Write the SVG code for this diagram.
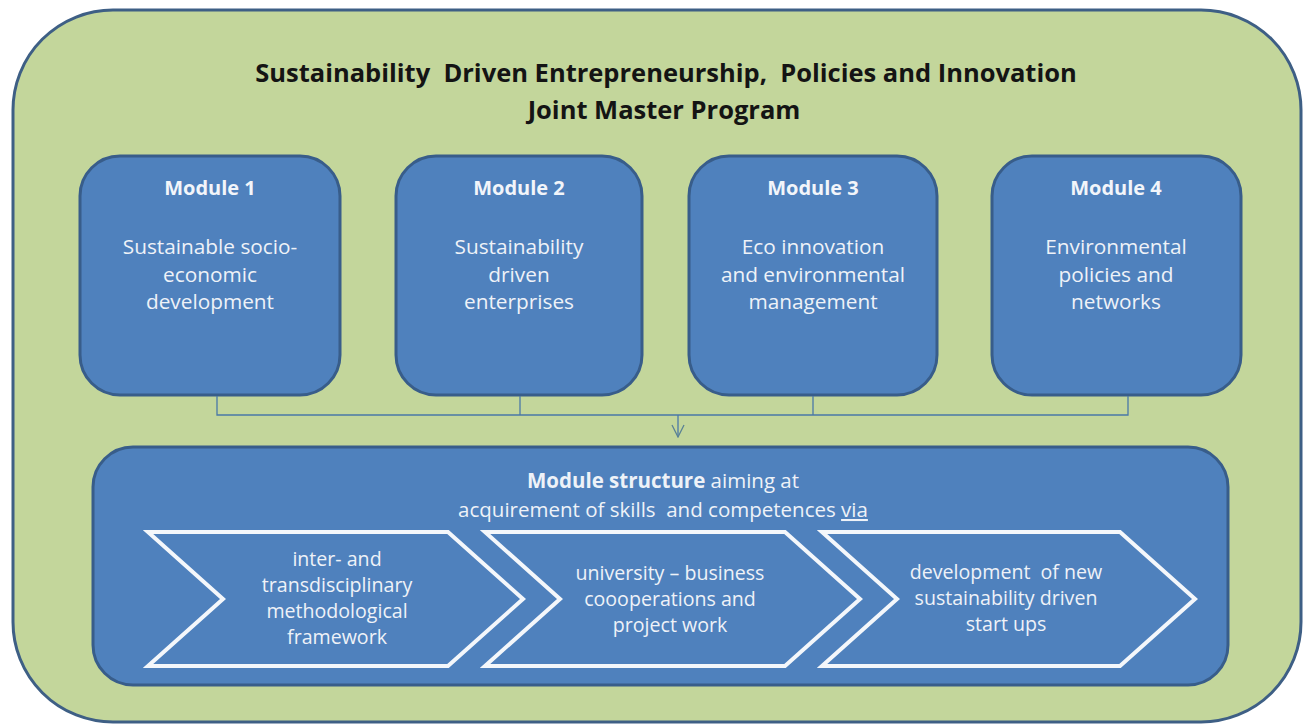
<svg xmlns="http://www.w3.org/2000/svg" width="1305" height="728" viewBox="0 0 1305 728" xml:space="preserve">
<defs>
<style>
.t{font-family:"Open Sans","Noto Sans","Liberation Sans",sans-serif;white-space:pre;}
.title{font-size:25.5px;font-weight:bold;fill:#141414;text-anchor:middle;}
.mh{font-size:20px;font-weight:bold;fill:#f2f5fa;text-anchor:middle;}
.mb{font-size:20.8px;fill:#eef2f8;text-anchor:middle;}
.cb{font-size:20.5px;fill:#eef2f8;text-anchor:middle;}
.cv{font-size:19.6px;fill:#eef2f8;text-anchor:middle;}
.mod{fill:#4f81bd;stroke:#385d8a;stroke-width:3;}
.chev{fill:#4f81bd;stroke:#f4f7fb;stroke-width:4;stroke-linejoin:miter;}
.conn{fill:none;stroke:#4a78a8;stroke-width:1.3;}
</style>
<marker id="arr" viewBox="0 0 14 14" refX="13" refY="7" markerWidth="14" markerHeight="14" markerUnits="userSpaceOnUse" orient="auto">
<path d="M1,1 L13,7 L1,13" fill="none" stroke="#5b8294" stroke-width="1.3"/>
</marker>
</defs>
<rect width="1305" height="728" fill="#ffffff"/>
<g id="outer">
<rect x="13" y="10" width="1288" height="712" rx="100" ry="100" fill="#c3d69b" stroke="#3e5f85" stroke-width="3"/>
<text class="t title" x="666" y="82">Sustainability  Driven Entrepreneurship,  Policies and Innovation</text>
<text class="t title" x="664" y="119">Joint Master Program</text>
</g>
<g id="module1">
<rect class="mod" x="80" y="156" width="260" height="239" rx="40"/>
<text class="t mh" x="210" y="195">Module 1</text>
<text class="t mb" x="210" y="254">Sustainable socio-</text>
<text class="t mb" x="210" y="282">economic</text>
<text class="t mb" x="210" y="309">development</text>
</g>
<g id="module2">
<rect class="mod" x="396" y="156" width="246" height="239" rx="40"/>
<text class="t mh" x="519" y="195">Module 2</text>
<text class="t mb" x="519" y="254">Sustainability</text>
<text class="t mb" x="519" y="282">driven</text>
<text class="t mb" x="519" y="309">enterprises</text>
</g>
<g id="module3">
<rect class="mod" x="689" y="156" width="248" height="239" rx="40"/>
<text class="t mh" x="813" y="195">Module 3</text>
<text class="t mb" x="813" y="254">Eco innovation</text>
<text class="t mb" x="813" y="282">and environmental</text>
<text class="t mb" x="813" y="309">management</text>
</g>
<g id="module4">
<rect class="mod" x="992" y="156" width="249" height="239" rx="40"/>
<text class="t mh" x="1116" y="195">Module 4</text>
<text class="t mb" x="1116" y="254">Environmental</text>
<text class="t mb" x="1116" y="282">policies and</text>
<text class="t mb" x="1116" y="309">networks</text>
</g>
<g id="connectors">
<polyline class="conn" points="217,396 217,415 1128,415 1128,396"/>
<line class="conn" x1="520" y1="396" x2="520" y2="415"/>
<line class="conn" x1="813" y1="396" x2="813" y2="415"/>
<line class="conn" x1="678" y1="415" x2="678" y2="437" stroke="#5b8294" marker-end="url(#arr)"/>
</g>
<g id="structure">
<rect class="mod" x="93" y="447" width="1135" height="238" rx="40"/>
<text class="t cb" x="663" y="488"><tspan font-weight="bold">Module structure</tspan> aiming at</text>
<text class="t cb" x="663" y="517">acquirement of skills  and competences <tspan text-decoration="underline">via</tspan></text>
</g>
<g id="step1">
<polygon class="chev" points="148,532 448,532 523,599 448,666 148,666 223,599"/>
<text class="t cv" x="337" y="566">inter- and</text>
<text class="t cv" x="337" y="592">transdisciplinary</text>
<text class="t cv" x="337" y="618">methodological</text>
<text class="t cv" x="337" y="644">framework</text>
</g>
<g id="step2">
<polygon class="chev" points="485,532 785,532 860,599 785,666 485,666 560,599"/>
<text class="t cv" x="670" y="580">university – business</text>
<text class="t cv" x="670" y="606">coooperations and</text>
<text class="t cv" x="670" y="632">project work</text>
</g>
<g id="step3">
<polygon class="chev" points="822,532 1120,532 1195,599 1120,666 822,666 897,599"/>
<text class="t cv" x="1006" y="579">development  of new</text>
<text class="t cv" x="1006" y="605">sustainability driven</text>
<text class="t cv" x="1006" y="631">start ups</text>
</g>
</svg>
